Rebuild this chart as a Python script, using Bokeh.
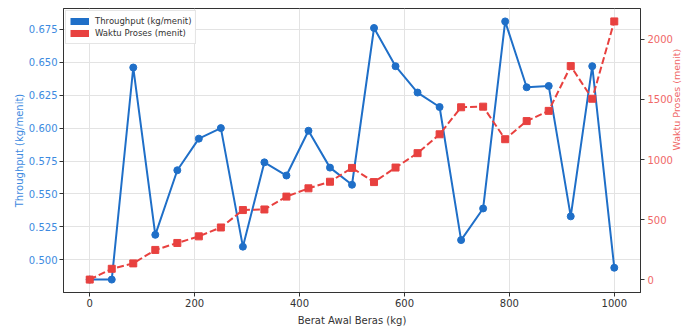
import math
from bokeh.plotting import figure
from bokeh.models import (Range1d, LinearAxis, FixedTicker, NumeralTickFormatter,
                          ColumnDataSource, Legend, LegendItem)
from bokeh.embed import file_html
from bokeh.resources import INLINE

# ---- data ----
berat = [0, 42, 83, 125, 167, 208, 250, 292, 333, 375, 417, 458, 500,
         542, 583, 625, 667, 708, 750, 792, 833, 875, 917, 958, 1000]
throughput = [0.485, 0.485, 0.646, 0.519, 0.568, 0.592, 0.600, 0.510, 0.574,
              0.564, 0.598, 0.570, 0.557, 0.676, 0.647, 0.627, 0.616, 0.515,
              0.539, 0.681, 0.631, 0.632, 0.533, 0.647, 0.494]
waktu = [0, 90, 135, 247, 305, 360, 434, 579, 584, 691, 760, 815, 930, 812,
         933, 1053, 1210, 1435, 1440, 1169, 1320, 1405, 1778, 1506, 2150]
x_ticks = [0, 200, 400, 600, 800, 1000]
left_ticks = [0.500, 0.525, 0.550, 0.575, 0.600, 0.625, 0.650, 0.675]
right_ticks = [0, 500, 1000, 1500, 2000]

BLUE = "#1f6fc8"
RED = "#e8413f"
BLUE_T = "#3d8ae0"
RED_T = "#f06868"
DARK = "#333333"
FONT = "DejaVu Sans"

W, H = 690, 328
FL, FT, FB = 63, 8, 295   # frame edges on the canvas

def pad(lo, hi, f=0.05):
    d = (hi - lo) * f
    return lo - d, hi + d

x0, x1 = pad(min(berat), max(berat))
y0, y1 = pad(min(throughput), max(throughput))
r0, r1 = pad(min(waktu), max(waktu))

p = figure(width=W, height=H, output_backend="svg", toolbar_location=None,
           x_range=Range1d(x0, x1), y_range=Range1d(y0, y1),
           min_border_left=FL, min_border_right=0, min_border_top=FT,
           min_border_bottom=H - FB)
p.extra_y_ranges = {"right": Range1d(r0, r1)}
p.background_fill_color = "white"
p.outline_line_color = DARK
p.outline_line_width = 1

# grid
p.xgrid.grid_line_color = "#e3e3e3"
p.ygrid.grid_line_color = "#e3e3e3"
p.xgrid.ticker = FixedTicker(ticks=x_ticks)
p.ygrid.ticker = FixedTicker(ticks=left_ticks)

def style_axis(ax, color, lab_color):
    ax.axis_line_color = DARK
    ax.major_tick_line_color = DARK
    ax.minor_tick_line_color = None
    ax.major_tick_out = 4
    ax.major_tick_in = 0
    ax.major_label_text_font = FONT
    ax.major_label_text_font_size = "10px"
    ax.major_label_text_color = lab_color
    ax.major_label_standoff = 3
    ax.axis_label_text_font = FONT
    ax.axis_label_text_font_size = "10px"
    ax.axis_label_text_font_style = "normal"
    ax.axis_label_text_color = color
    ax.axis_label_standoff = 4

xa = p.xaxis[0]
style_axis(xa, DARK, DARK)
xa.ticker = FixedTicker(ticks=x_ticks)
xa.axis_label = "Berat Awal Beras (kg)"
xa.major_label_standoff = 2
xa.axis_label_standoff = 5

ya = p.yaxis[0]
style_axis(ya, BLUE_T, BLUE_T)
ya.ticker = FixedTicker(ticks=left_ticks)
ya.formatter = NumeralTickFormatter(format="0.000")
ya.axis_label = "Throughput (kg/menit)"
ya.major_label_standoff = 2
ya.axis_label_standoff = 1

ra = LinearAxis(y_range_name="right")
style_axis(ra, RED_T, RED_T)
ra.ticker = FixedTicker(ticks=right_ticks)
ra.axis_label = "Waktu Proses (menit)"
ra.axis_label_text_font_size = "9.5px"
ra.axis_label_standoff = 1
if hasattr(ra, "axis_label_orientation"):
    ra.axis_label_orientation = math.pi / 2
p.add_layout(ra, "right")

src = ColumnDataSource(dict(x=berat, t=throughput, w=waktu))

p.line("x", "t", source=src, line_color=BLUE, line_width=2)
p.scatter("x", "t", source=src, marker="circle", size=7, fill_color=BLUE,
          line_color=BLUE)
p.line("x", "w", source=src, y_range_name="right", line_color=RED,
       line_width=2, line_dash="7 3")
p.scatter("x", "w", source=src, y_range_name="right", marker="square", size=7,
          fill_color=RED, line_color=RED)

# legend swatches: single-point lines (draw nothing in the plot itself)
one_b = ColumnDataSource(dict(x=berat[:1], y=throughput[:1]))
one_r = ColumnDataSource(dict(x=berat[:1], y=waktu[:1]))
lb = p.line("x", "y", source=one_b, line_color=BLUE, line_width=7, line_cap="butt")
lr = p.line("x", "y", source=one_r, y_range_name="right", line_color=RED,
            line_width=7, line_cap="butt")
legend = Legend(items=[LegendItem(label="Throughput (kg/menit)", renderers=[lb]),
                       LegendItem(label="Waktu Proses (menit)", renderers=[lr])],
                location="top_left")
legend.margin = 2
legend.padding = 4
legend.spacing = 0
legend.glyph_width = 19
legend.glyph_height = 12
legend.label_standoff = 6
legend.label_height = 12
legend.label_text_font = FONT
legend.label_text_font_size = "8.5px"
legend.label_text_color = DARK
legend.border_line_color = "#cccccc"
legend.border_line_width = 1
legend.background_fill_alpha = 0.9
p.add_layout(legend, "center")

open("out.html", "w").write(file_html(p, INLINE))
